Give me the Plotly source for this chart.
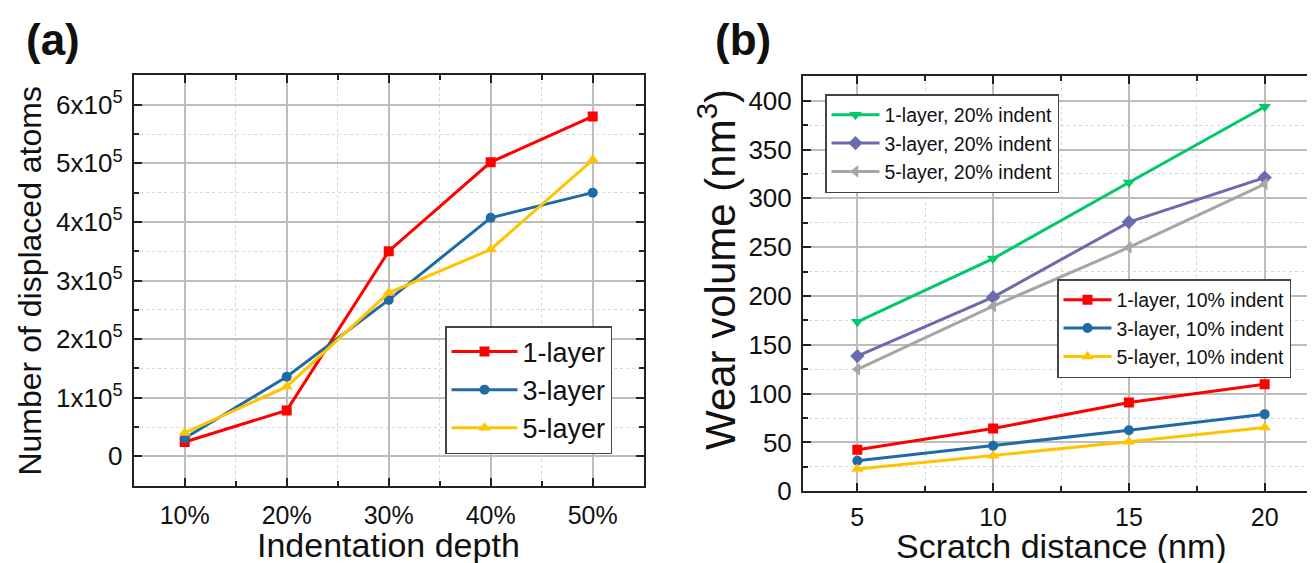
import plotly.graph_objects as go

# ---------------- data: panel (a) ----------------
depth = [10, 20, 30, 40, 50]
depth_labels = ["10%", "20%", "30%", "40%", "50%"]
atoms_1layer = [24500, 78500, 350000, 502000, 580000]
atoms_3layer = [31000, 136000, 267000, 407000, 450000]
atoms_5layer = [40000, 119000, 279000, 353000, 506000]
atoms_tickvals = [0, 100000, 200000, 300000, 400000, 500000, 600000]
atoms_ticktext = ["0", "1x10<sup>5</sup>", "2x10<sup>5</sup>", "3x10<sup>5</sup>",
                  "4x10<sup>5</sup>", "5x10<sup>5</sup>", "6x10<sup>5</sup>"]

# ---------------- data: panel (b) ----------------
scratch = [5, 10, 15, 20]
wear_1layer_20 = [173.6, 238.3, 316.2, 393.8]
wear_3layer_20 = [138.5, 198.8, 275.7, 321.3]
wear_5layer_20 = [124.9, 189.6, 249.8, 314.5]
wear_1layer_10 = [42.5, 64.3, 90.9, 109.6]
wear_3layer_10 = [31.3, 46.6, 62.6, 79.0]
wear_5layer_10 = [22.8, 36.4, 50.7, 65.3]

W, H = 1315, 563
FONT = "Liberation Sans, Arial, sans-serif"
AX = "#222222"
TXT = "#111111"

RED = "#FF0000"
BLUE = "#1F6BA5"
YELLOW = "#FFC400"
GREEN = "#00C96B"
PURPLE = "#6B6BAE"
GRAY = "#A6A6A6"

# plot-area boxes in pixels (left, right, top, bottom)
A_BOX = (125.7, 635.7, 67.4, 477.7)
B_BOX = (795.0, 1311.0, 68.3, 483.3)

fig = go.Figure()

def add(x, y, name, color, symbol, xa, ya, legend, size=10):
    fig.add_trace(go.Scatter(
        x=x, y=y, name=name, mode="lines+markers",
        line=dict(color=color, width=3),
        marker=dict(symbol=symbol, size=size, color=color),
        xaxis=xa, yaxis=ya, legend=legend))

add(depth, atoms_1layer, "1-layer", RED, "square", "x", "y", "legend")
add(depth, atoms_3layer, "3-layer", BLUE, "circle", "x", "y", "legend")
add(depth, atoms_5layer, "5-layer", YELLOW, "triangle-up", "x", "y", "legend", 11)

add(scratch, wear_1layer_20, "1-layer, 20% indent", GREEN, "triangle-down", "x2", "y2", "legend2", 11)
add(scratch, wear_3layer_20, "3-layer, 20% indent", PURPLE, "diamond", "x2", "y2", "legend2", 11)
add(scratch, wear_5layer_20, "5-layer, 20% indent", GRAY, "triangle-left", "x2", "y2", "legend2", 11)
add(scratch, wear_1layer_10, "1-layer, 10% indent", RED, "square", "x2", "y2", "legend3")
add(scratch, wear_3layer_10, "3-layer, 10% indent", BLUE, "circle", "x2", "y2", "legend3")
add(scratch, wear_5layer_10, "5-layer, 10% indent", YELLOW, "triangle-up", "x2", "y2", "legend3", 11)

def axis_common(standoff, fsize):
    return dict(
        showline=True, linewidth=2, linecolor=AX, mirror="ticks",
        ticks="inside", ticklen=8, tickwidth=2, tickcolor=AX,
        showgrid=True, gridcolor="#BDBDBD", gridwidth=1.5,
        zeroline=False, automargin=False,
        tickfont=dict(family=FONT, size=fsize, color=TXT),
        ticklabelstandoff=standoff,
    )

def minor(tick0, dtick):
    return dict(tickmode="linear", tick0=tick0, dtick=dtick, ticks="inside",
                ticklen=5, tickwidth=1.5, tickcolor=AX, showgrid=True,
                gridcolor="#D6D6D6", gridwidth=1, griddash="dot")

xa = axis_common(6, 25)
xa.update(domain=[A_BOX[0] / W, A_BOX[1] / W], anchor="y", range=[5, 55],
          tickmode="array", tickvals=depth, ticktext=depth_labels,
          minor=minor(5, 10))
ya = axis_common(4, 26)
ya.update(domain=[1 - A_BOX[3] / H, 1 - A_BOX[2] / H], anchor="x", range=[-50000, 650000],
          tickmode="array", tickvals=atoms_tickvals, ticktext=atoms_ticktext,
          minor=minor(-50000, 100000))

xb = axis_common(3, 25)
xb.update(domain=[B_BOX[0] / W, B_BOX[1] / W], anchor="y2", range=[3, 22],
          tickmode="linear", tick0=0, dtick=5,
          minor=minor(2.5, 5))
yb = axis_common(4, 26)
yb.update(domain=[1 - B_BOX[3] / H, 1 - B_BOX[2] / H], anchor="x2", range=[0, 425],
          tickmode="linear", tick0=0, dtick=50,
          minor=minor(25, 50))

def legend(x, y, size, iw):
    return dict(x=x, y=y, xanchor="left", yanchor="top", xref="paper", yref="paper",
                bgcolor="white", bordercolor="#444", borderwidth=1.5,
                font=dict(family=FONT, size=size, color=TXT),
                tracegroupgap=0, itemwidth=iw)

def label(text, px, py, size, xanchor="center", yanchor="middle", angle=0):
    return dict(text=text, x=px / W, y=1 - py / H, xref="paper", yref="paper",
                xanchor=xanchor, yanchor=yanchor, textangle=angle, showarrow=False,
                font=dict(family=FONT, size=size, color=TXT))

fig.update_layout(
    width=W, height=H, autosize=False,
    margin=dict(l=0, r=0, t=0, b=0, autoexpand=False),
    paper_bgcolor="white", plot_bgcolor="white",
    font=dict(family=FONT, color=TXT),
    xaxis=xa, yaxis=ya, xaxis2=xb, yaxis2=yb,
    showlegend=True,
    legend=legend(437 / W, 1 - 318 / H, 27, 66),
    legend2=legend(817 / W, 1 - 86 / H, 19.5, 48),
    legend3=legend(1049 / W, 1 - 271 / H, 19.5, 48),
    annotations=[
        label("<b>(a)</b>", 45, 31, 44),
        label("<b>(b)</b>", 735, 31, 44),
        label("Indentation depth", (A_BOX[0] + A_BOX[1]) / 2, H - 5, 34, yanchor="bottom"),
        label("Scratch distance (nm)", (B_BOX[0] + B_BOX[1]) / 2, H - 4, 34, yanchor="bottom"),
        label("Number of displaced atoms", 22, (A_BOX[2] + A_BOX[3]) / 2, 32, angle=-90),
        label("Wear volume (nm<sup>3</sup>)", 709, 262, 42, angle=-90),
    ],
)

fig.write_html("out.html")
